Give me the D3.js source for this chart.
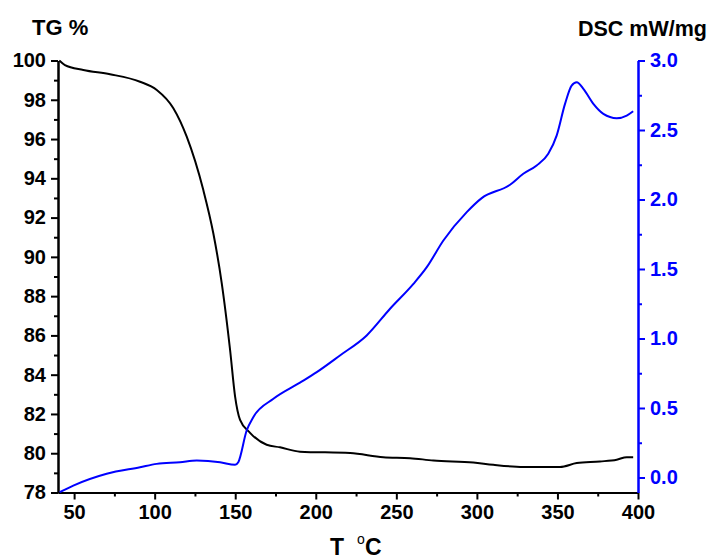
<!DOCTYPE html>
<html lang="en">
<head>
<meta charset="UTF-8">
<title>TG / DSC</title>
<script src="https://d3js.org/d3.v7.min.js"></script>
<style>
  body { margin: 0; background: #fff; }
  text { font-family: "Liberation Sans", Arial, sans-serif; font-weight: bold; }
</style>
</head>
<body>
<div id="chart"></div>
<script>
// TG curve (temperature °C, mass %)
var tgTemp = [40.8, 44.3, 55.7, 72.3, 90.9, 101.3, 111.6, 119.9, 130.2, 136.4, 141.6, 146.8, 149.9, 153, 159.2, 169.5, 177.8, 190.2, 221.3, 241.9, 258.5, 273, 297.8, 310.2, 328.8, 351.6, 362, 376.4, 386.8, 393, 397];
var tgVal  = [100, 99.77, 99.52, 99.3, 98.92, 98.5, 97.57, 96.12, 93.4, 91.2, 88.68, 85.27, 82.9, 81.7, 81.04, 80.43, 80.3, 80.08, 80.01, 79.8, 79.75, 79.63, 79.53, 79.41, 79.3, 79.3, 79.5, 79.58, 79.67, 79.8, 79.8];

// DSC curve (temperature °C, mW/mg)
var dscTemp = [41, 49.5, 70.2, 90.9, 101.3, 115.7, 126.1, 140.6, 149.9, 151.9, 157.1, 161.2, 173.7, 190.2, 200.6, 215, 231.6, 246.1, 260.6, 268.9, 279.2, 293.7, 303, 320.6, 328.8, 337.1, 344.3, 349.5, 354.7, 358.8, 362, 366.1, 372.3, 378.5, 386.8, 393, 397];
var dscVal  = [-0.106, -0.058, 0.027, 0.074, 0.098, 0.11, 0.122, 0.11, 0.091, 0.11, 0.338, 0.434, 0.566, 0.682, 0.758, 0.878, 1.022, 1.214, 1.393, 1.513, 1.705, 1.909, 2.01, 2.106, 2.185, 2.245, 2.329, 2.46, 2.688, 2.82, 2.844, 2.796, 2.688, 2.616, 2.585, 2.604, 2.635];

var xTicks = [50, 100, 150, 200, 250, 300, 350, 400];
var tgTicks = [78, 80, 82, 84, 86, 88, 90, 92, 94, 96, 98, 100];
var dscTicks = [0.0, 0.5, 1.0, 1.5, 2.0, 2.5, 3.0];

var width = 714, height = 559;
var margin = {top: 60.5, right: 76, bottom: 66.5, left: 58};

var svg = d3.select("#chart").append("svg")
    .attr("width", width)
    .attr("height", height);

var x = d3.scaleLinear().domain([40, 400]).range([margin.left, width - margin.right]);
var yL = d3.scaleLinear().domain([78, 100]).range([height - margin.bottom, margin.top]);
var yR = d3.scaleLinear().domain([-0.108, 3.0]).range([height - margin.bottom, margin.top]);

var blue = "#0000ff";

// bottom axis
svg.append("g")
    .attr("transform", "translate(0," + (height - margin.bottom) + ")")
    .call(d3.axisBottom(x).tickValues(xTicks).tickSize(7).tickPadding(5).tickSizeOuter(0));
svg.append("g")
    .attr("transform", "translate(0," + (height - margin.bottom) + ")")
    .call(d3.axisBottom(x).tickValues(d3.range(75, 400, 50)).tickSize(4).tickFormat("").tickSizeOuter(0));

// left axis
svg.append("g")
    .attr("transform", "translate(" + margin.left + ",0)")
    .call(d3.axisLeft(yL).tickValues(tgTicks).tickSize(7).tickPadding(5).tickSizeOuter(0));
svg.append("g")
    .attr("transform", "translate(" + margin.left + ",0)")
    .call(d3.axisLeft(yL).tickValues(d3.range(79, 100, 2)).tickSize(4).tickFormat("").tickSizeOuter(0));

// right axis
var rightAxis = svg.append("g")
    .attr("transform", "translate(" + (width - margin.right) + ",0)")
    .call(d3.axisRight(yR).tickValues(dscTicks).tickFormat(d3.format(".1f")).tickSize(7).tickPadding(5).tickSizeOuter(0));
var rightMinor = svg.append("g")
    .attr("transform", "translate(" + (width - margin.right) + ",0)")
    .call(d3.axisRight(yR).tickValues([0.25, 0.75, 1.25, 1.75, 2.25, 2.75]).tickSize(4).tickFormat("").tickSizeOuter(0));

svg.selectAll(".domain").attr("stroke-width", 2);
svg.selectAll(".tick line").attr("stroke-width", 2);
svg.selectAll(".tick text").style("font-size", "20px").style("font-family", "'Liberation Sans', Arial, sans-serif").style("font-weight", "bold");

rightAxis.selectAll(".domain, .tick line").attr("stroke", blue);
rightMinor.selectAll(".domain, .tick line").attr("stroke", blue);
rightAxis.selectAll(".tick text").attr("fill", blue);

// curves
var tgData = tgTemp.map(function(t, i) { return [t, tgVal[i]]; });
var dscData = dscTemp.map(function(t, i) { return [t, dscVal[i]]; });

svg.append("path")
    .datum(tgData)
    .attr("fill", "none")
    .attr("stroke", "#000")
    .attr("stroke-width", 2)
    .attr("d", d3.line().curve(d3.curveMonotoneX)
        .x(function(d) { return x(d[0]); })
        .y(function(d) { return yL(d[1]); }));

svg.append("path")
    .datum(dscData)
    .attr("fill", "none")
    .attr("stroke", blue)
    .attr("stroke-width", 2)
    .attr("d", d3.line().curve(d3.curveMonotoneX)
        .x(function(d) { return x(d[0]); })
        .y(function(d) { return yR(d[1]); }));

// titles
svg.append("text").attr("x", 32).attr("y", 35).style("font-size", "22px").text("TG %");
svg.append("text").attr("x", 578).attr("y", 36).style("font-size", "21.5px").text("DSC mW/mg");

var xl = svg.append("text").attr("x", 330).attr("y", 555).style("font-size", "23px");
xl.append("tspan").text("T");
xl.append("tspan").attr("x", 357).attr("dy", -11).style("font-size", "14px").style("font-weight", "normal").text("o");
xl.append("tspan").attr("x", 365).attr("dy", 11).text("C");
</script>
</body>
</html>
